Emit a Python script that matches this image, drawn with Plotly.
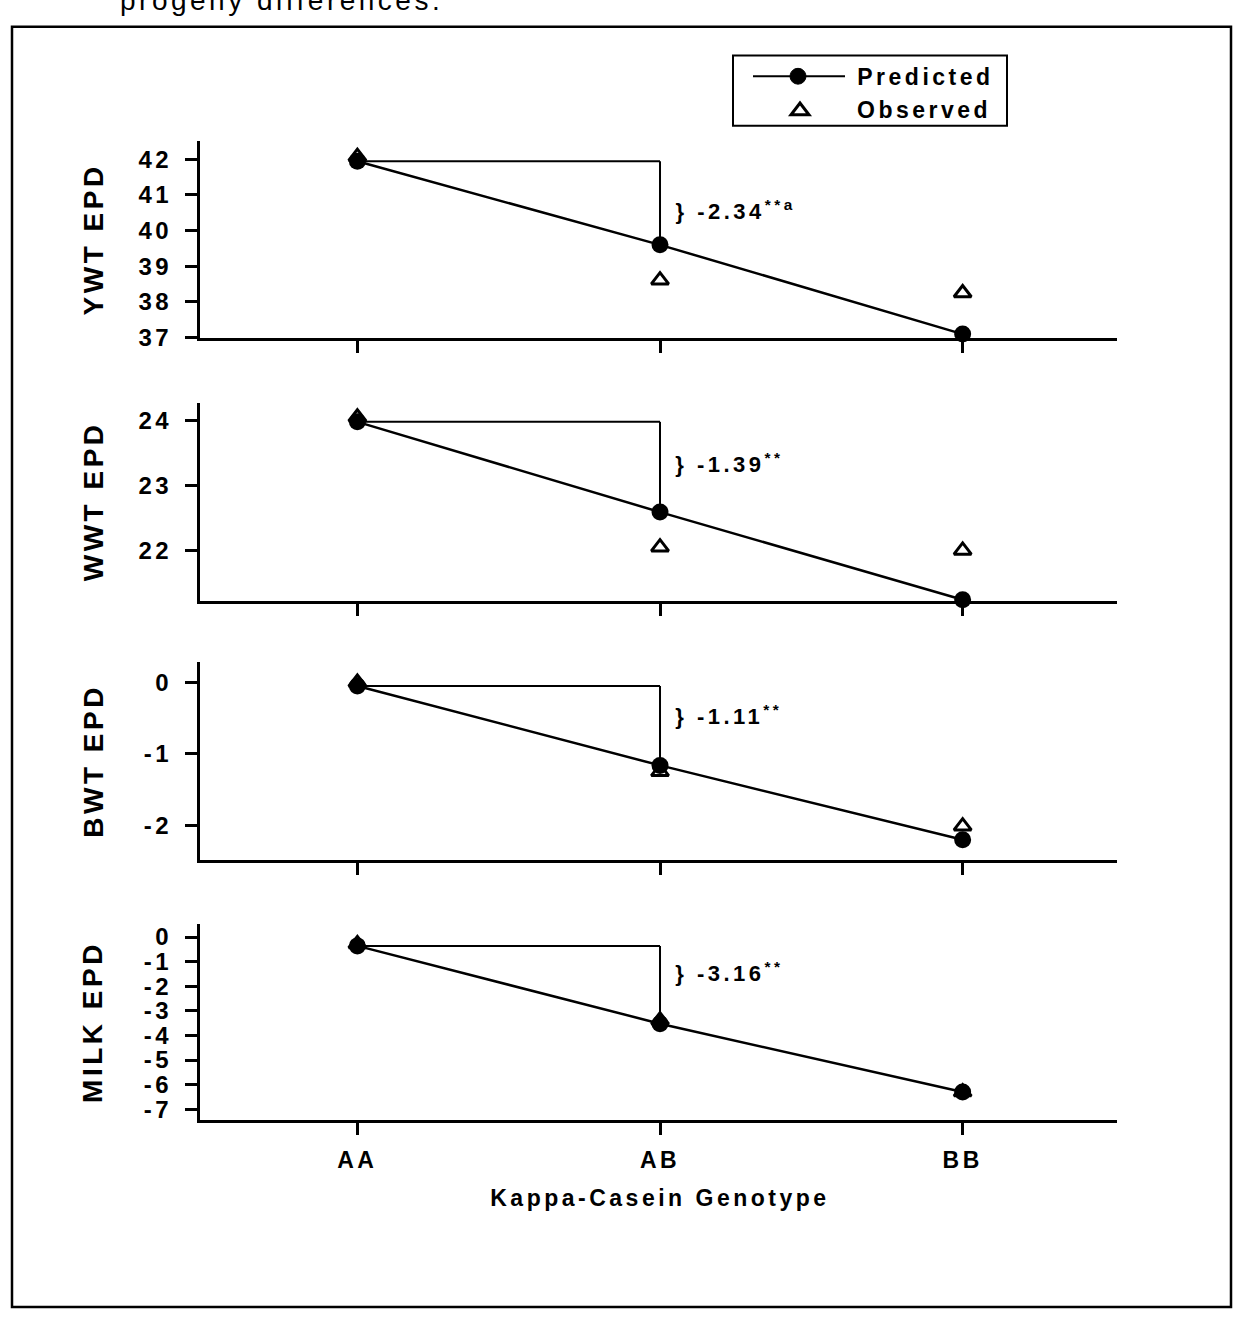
import plotly.graph_objects as go

W, H = 1236, 1326

# Kappa-casein genotype categories
genotypes = ["AA", "AB", "BB"]
genotype_pos = [0, 1, 2]

# Expected progeny differences per trait: predicted (line + dots) and observed (triangles)
ywt_predicted = [41.94, 39.60, 37.10]
ywt_observed = [42.07, 38.61, 38.25]
wwt_predicted = [23.98, 22.59, 21.24]
wwt_observed = [24.05, 22.05, 22.00]
bwt_predicted = [-0.05, -1.16, -2.20]
bwt_observed = [0.00, -1.25, -2.01]
milk_predicted = [-0.36, -3.52, -6.30]
milk_observed = [-0.28, -3.38, -6.30]

trait_names = ["YWT EPD", "WWT EPD", "BWT EPD", "MILK EPD"]
ab_effects = ["-2.34", "-1.39", "-1.11", "-3.16"]
effect_marks = ["**a", "**", "**", "**"]

ywt_ticks = [37, 38, 39, 40, 41, 42]
wwt_ticks = [22, 23, 24]
bwt_ticks = [0, -1, -2]
milk_ticks = [0, -1, -2, -3, -4, -5, -6, -7]

predicted = [ywt_predicted, wwt_predicted, bwt_predicted, milk_predicted]
observed = [ywt_observed, wwt_observed, bwt_observed, milk_observed]
tick_sets = [ywt_ticks, wwt_ticks, bwt_ticks, milk_ticks]
y_ranges = [[37.0, 42.52], [21.22, 24.27], [-2.49, 0.28], [-7.43, 0.535]]

# panel placement in pixels (top, bottom)
panel_px = [(142, 341), (407, 607), (669, 869), (933, 1131)]
plot_left, plot_right = 200, 1117
label_frac = [0.648, 0.695, 0.735, 0.752]

SPACING = 3.5  # letter spacing (px) applied to every text element


def px(x):
    return x / W


def py(y):
    return 1 - y / H


def left_px(x, text):
    # annotations are centred, so letter spacing widens them on both sides
    return px(x + SPACING * len(text) / 2)


FONT = "Liberation Sans, Arial, sans-serif"
BOLD = dict(family=FONT, color="black", weight="bold")
fig = go.Figure()
shapes = []
annotations = []

for i in range(4):
    n = "" if i == 0 else str(i + 1)
    xa, ya = "x" + n, "y" + n
    fig.add_trace(go.Scatter(
        x=genotype_pos, y=predicted[i], xaxis=xa, yaxis=ya,
        mode="lines+markers", name="Predicted", showlegend=False,
        line=dict(color="black", width=2.5),
        marker=dict(symbol="circle", size=17, color="black"),
        cliponaxis=False,
    ))
    fig.add_trace(go.Scatter(
        x=genotype_pos, y=observed[i], xaxis=xa, yaxis=ya,
        mode="markers", name="Observed", showlegend=False,
        marker=dict(symbol="triangle-up-open", size=15, color="black",
                    line=dict(width=3, color="black")),
        cliponaxis=False,
    ))

    top, bot = panel_px[i]
    last = i == 3
    fig.update_layout(**{
        "xaxis" + n: dict(
            domain=[px(plot_left), px(plot_right)],
            anchor=ya, range=[-0.52, 2.51],
            tickmode="array", tickvals=genotype_pos, ticktext=genotypes,
            showticklabels=last, ticks="outside", ticklen=12, tickwidth=2.5,
            tickcolor="black", showline=True, linewidth=3, linecolor="black",
            showgrid=False, zeroline=False, ticklabelstandoff=5,
            tickfont=dict(BOLD, size=23),
        ),
        "yaxis" + n: dict(
            domain=[py(bot), py(top)],
            anchor=xa, range=y_ranges[i],
            tickmode="array", tickvals=tick_sets[i],
            ticktext=[str(v) for v in tick_sets[i]],
            ticks="outside", ticklen=12, tickwidth=3, tickcolor="black",
            showline=True, linewidth=3, linecolor="black",
            showgrid=False, zeroline=False, ticklabelstandoff=8,
            tickfont=dict(BOLD, size=24),
        ),
    })

    # bracket from the AA level across to the AB predicted value
    aa, ab = predicted[i][0], predicted[i][1]
    shapes.append(dict(type="line", xref=xa, yref=ya, x0=0, x1=1, y0=aa, y1=aa,
                       line=dict(color="black", width=2)))
    shapes.append(dict(type="line", xref=xa, yref=ya, x0=1, x1=1, y0=aa, y1=ab,
                       line=dict(color="black", width=2)))
    label = "} " + ab_effects[i] + effect_marks[i]
    annotations.append(dict(
        xref="paper", yref=ya + " domain", x=left_px(673, label), y=label_frac[i],
        xanchor="left", yanchor="middle", showarrow=False,
        text="} " + ab_effects[i] + "<sup>" + effect_marks[i] + "</sup>",
        font=dict(BOLD, size=22),
    ))
    annotations.append(dict(
        xref="paper", yref="paper", x=px(93), y=py((top + bot) / 2),
        xanchor="center", yanchor="middle", textangle=-90, showarrow=False,
        text=trait_names[i], font=dict(BOLD, size=28),
    ))

# x-axis title
annotations.append(dict(
    xref="paper", yref="paper", x=px(660), y=py(1210),
    xanchor="center", yanchor="middle", showarrow=False,
    text="Kappa-Casein Genotype", font=dict(BOLD, size=23),
))

# caption line running off the top edge
caption = "progeny differences."
annotations.append(dict(
    xref="paper", yref="paper", x=left_px(118, caption), y=py(0),
    xanchor="left", yanchor="middle", showarrow=False,
    text=caption, font=dict(family=FONT, size=28, color="black"),
))

# key box
shapes.append(dict(type="rect", xref="paper", yref="paper",
                   x0=px(733), x1=px(1007), y0=py(127), y1=py(56),
                   line=dict(color="black", width=2), fillcolor="white"))
shapes.append(dict(type="line", xref="paper", yref="paper",
                   x0=px(753), x1=px(845), y0=py(77), y1=py(77),
                   line=dict(color="black", width=2)))
shapes.append(dict(type="circle", xref="paper", yref="paper",
                   x0=px(790), x1=px(806), y0=py(85), y1=py(69),
                   line=dict(color="black", width=1), fillcolor="black"))
shapes.append(dict(type="path", xref="paper", yref="paper",
                   path=f"M {px(791)} {py(116)} L {px(809)} {py(116)} L {px(800)} {py(104)} Z",
                   line=dict(color="black", width=3), fillcolor="white"))
for name, ycen in [("Predicted", 78), ("Observed", 111)]:
    annotations.append(dict(
        xref="paper", yref="paper", x=left_px(855, name), y=py(ycen),
        xanchor="left", yanchor="middle", showarrow=False,
        text=name, font=dict(BOLD, size=23),
    ))

# outer frame
shapes.append(dict(type="rect", xref="paper", yref="paper",
                   x0=px(12), x1=px(1231), y0=py(1320), y1=py(27),
                   line=dict(color="black", width=2.5), layer="below"))

fig.update_layout(
    width=W, height=H,
    margin=dict(l=0, r=0, t=0, b=0),
    paper_bgcolor="white", plot_bgcolor="white",
    showlegend=False,
    shapes=shapes, annotations=annotations,
    font=dict(family=FONT, color="black"),
)

spacing_js = (
    "document.querySelectorAll('.main-svg text').forEach(function(t){"
    "t.style.letterSpacing='" + str(SPACING) + "px';});"
)
fig.write_html("out.html", post_script=spacing_js)
